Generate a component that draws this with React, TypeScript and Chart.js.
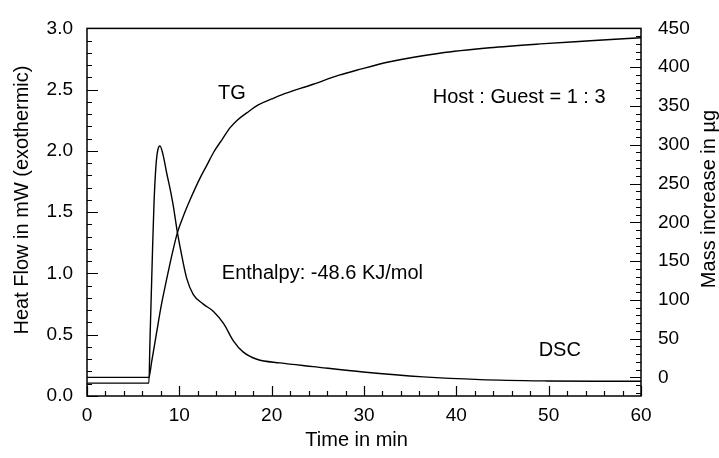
import React, { useEffect, useRef } from "react";
import { Chart, registerables } from "chart.js";

Chart.register(...registerables);

// DSC trace: time (min) vs heat flow (mW, exothermic up)
const dscTime = [0, 6.7, 6.82, 7.1, 7.26, 7.47, 7.65, 7.9, 8.2, 8.63, 9.0, 9.35, 9.78, 10.2, 10.8, 11.5, 12.6, 13.7, 14.8, 15.85, 16.9, 18.4, 20.9, 24.5, 29.9, 36.4, 42.6, 49.8, 55, 60];
const dscHeatFlow = [0.105, 0.105, 0.45, 1.2, 1.58, 1.88, 2.0, 2.04, 1.98, 1.82, 1.69, 1.55, 1.34, 1.17, 0.96, 0.83, 0.75, 0.69, 0.59, 0.45, 0.36, 0.3, 0.27, 0.24, 0.196, 0.156, 0.134, 0.123, 0.12, 0.12];

// TG trace: time (min) vs mass increase (µg)
const tgTime = [0, 6.7, 7.0, 7.5, 8.0, 8.6, 9.2, 9.8, 10.5, 11.2, 12.2, 13.0, 13.7, 14.7, 15.5, 16.3, 17.3, 18.5, 20, 21, 24.5, 27.4, 29.2, 32.8, 38.2, 43.6, 49.1, 54.5, 60];
const tgMass = [0, 0, 20, 55, 90, 125, 158, 187, 210, 230, 256, 274, 290, 308, 322, 332, 341, 351, 359, 364, 378, 390, 396, 407, 418, 425, 430, 434, 438];

// Axis ranges and tick spacing
const timeRange = [0, 60];
const timeMajor = 10;
const timeMinor = 2;
const heatRange = [0, 3];
const heatMajor = 0.5;
const heatMinor = 0.1;
const massRange = [-24, 450];
const massMajor = 50;
const massMinor = 10;

// Text labels
const xTitle = "Time in min";
const leftTitle = "Heat Flow in mW (exothermic)";
const rightTitle = "Mass increase in µg";
const labelTG = "TG";
const labelDSC = "DSC";
const labelRatio = "Host : Guest = 1 : 3";
const labelEnthalpy = "Enthalpy: -48.6 KJ/mol";

const FONT = "'Liberation Sans', Arial, Helvetica, sans-serif";

const framePlugin = {
  id: "frameTicksText",
  afterDraw(chart: any) {
    const { ctx, chartArea, scales } = chart;
    const { left, right, top, bottom } = chartArea;
    const xs = scales.x;
    const yl = scales.yHeat;
    const yr = scales.yMass;
    ctx.save();
    ctx.strokeStyle = "#000";
    ctx.lineWidth = 1.5;
    ctx.strokeRect(left, top, right - left, bottom - top);

    ctx.lineWidth = 1.2;
    ctx.beginPath();
    // bottom axis ticks, pointing inward
    for (let v = timeRange[0]; v <= timeRange[1] + 1e-9; v += timeMinor) {
      const px = Math.round(xs.getPixelForValue(v)) + 0.5;
      const major = Math.abs(v / timeMajor - Math.round(v / timeMajor)) < 1e-6;
      const len = major ? 10 : 5;
      ctx.moveTo(px, bottom);
      ctx.lineTo(px, bottom - len);
    }
    // left axis ticks
    const nHeat = Math.round((heatRange[1] - heatRange[0]) / heatMinor);
    for (let i = 0; i <= nHeat; i++) {
      const v = heatRange[0] + i * heatMinor;
      const py = Math.round(yl.getPixelForValue(v)) + 0.5;
      const major = Math.abs(v / heatMajor - Math.round(v / heatMajor)) < 1e-6;
      const len = major ? 11 : 5;
      ctx.moveTo(left, py);
      ctx.lineTo(left + len, py);
    }
    // right axis ticks
    for (let v = -20; v <= massRange[1] + 1e-9; v += massMinor) {
      const py = Math.round(yr.getPixelForValue(v)) + 0.5;
      const major = v % massMajor === 0;
      const len = major ? 11 : 5;
      ctx.moveTo(right, py);
      ctx.lineTo(right - len, py);
    }
    ctx.stroke();

    ctx.fillStyle = "#000";
    ctx.font = `20px ${FONT}`;
    ctx.textBaseline = "middle";

    // axis titles
    ctx.textAlign = "center";
    ctx.fillText(xTitle, xs.getPixelForValue(29.2), 440);
    ctx.save();
    ctx.translate(22, 200);
    ctx.rotate(-Math.PI / 2);
    ctx.fillText(leftTitle, 0, 0);
    ctx.restore();
    ctx.save();
    ctx.translate(709, 199);
    ctx.rotate(-Math.PI / 2);
    ctx.fillText(rightTitle, 0, 0);
    ctx.restore();

    // curve annotations
    ctx.fillText(labelTG, xs.getPixelForValue(15.7), yl.getPixelForValue(2.47));
    ctx.fillText(labelRatio, xs.getPixelForValue(46.8), yl.getPixelForValue(2.44));
    ctx.fillText(labelDSC, xs.getPixelForValue(51.2), yl.getPixelForValue(0.37));
    ctx.textAlign = "left";
    ctx.fillText(labelEnthalpy, xs.getPixelForValue(14.6), yl.getPixelForValue(1.0));
    ctx.restore();
  },
};

export default function App() {
  const canvasRef = useRef<HTMLCanvasElement | null>(null);

  useEffect(() => {
    document.body.style.margin = "0";
    const canvas = canvasRef.current;
    if (!canvas) return;

    const dscPoints = dscTime.map((t, i) => ({ x: t, y: dscHeatFlow[i] }));
    const tgPoints = tgTime.map((t, i) => ({ x: t, y: tgMass[i] }));

    const tickFont = { family: FONT, size: 19 };

    const chart = new Chart(canvas, {
      type: "line",
      data: {
        datasets: [
          {
            label: "DSC",
            data: dscPoints,
            yAxisID: "yHeat",
            borderColor: "#000",
            borderWidth: 1.4,
            pointRadius: 0,
            fill: false,
            cubicInterpolationMode: "monotone",
          },
          {
            label: "TG",
            data: tgPoints,
            yAxisID: "yMass",
            borderColor: "#000",
            borderWidth: 1.4,
            pointRadius: 0,
            fill: false,
            cubicInterpolationMode: "monotone",
          },
        ],
      },
      options: {
        animation: false,
        responsive: true,
        maintainAspectRatio: false,
        layout: { padding: { top: 24, left: 0, right: 0, bottom: 0 } },
        plugins: {
          legend: { display: false },
          tooltip: { enabled: false },
        },
        scales: {
          x: {
            type: "linear",
            min: timeRange[0],
            max: timeRange[1],
            grid: { display: false, drawTicks: false },
            border: { display: false },
            ticks: {
              stepSize: timeMajor,
              padding: 8,
              color: "#000",
              font: tickFont,
              maxRotation: 0,
            },
            afterFit(scale: any) {
              scale.height = 62;
            },
          },
          yHeat: {
            type: "linear",
            position: "left",
            min: heatRange[0],
            max: heatRange[1],
            grid: { display: false, drawTicks: false },
            border: { display: false },
            ticks: {
              stepSize: heatMajor,
              padding: 14,
              color: "#000",
              font: tickFont,
              callback: (v: any) => Number(v).toFixed(1),
            },
            afterFit(scale: any) {
              scale.width = 87;
            },
          },
          yMass: {
            type: "linear",
            position: "right",
            min: massRange[0],
            max: massRange[1],
            grid: { display: false, drawTicks: false },
            border: { display: false },
            ticks: {
              stepSize: massMajor,
              includeBounds: false,
              padding: 17,
              color: "#000",
              font: tickFont,
            },
            afterFit(scale: any) {
              scale.width = 78;
            },
          },
        },
      },
      plugins: [framePlugin],
    } as any);

    return () => chart.destroy();
  }, []);

  return (
    <div style={{ position: "absolute", left: 0, top: 0, width: 719, height: 458 }}>
      <canvas ref={canvasRef} />
    </div>
  );
}
